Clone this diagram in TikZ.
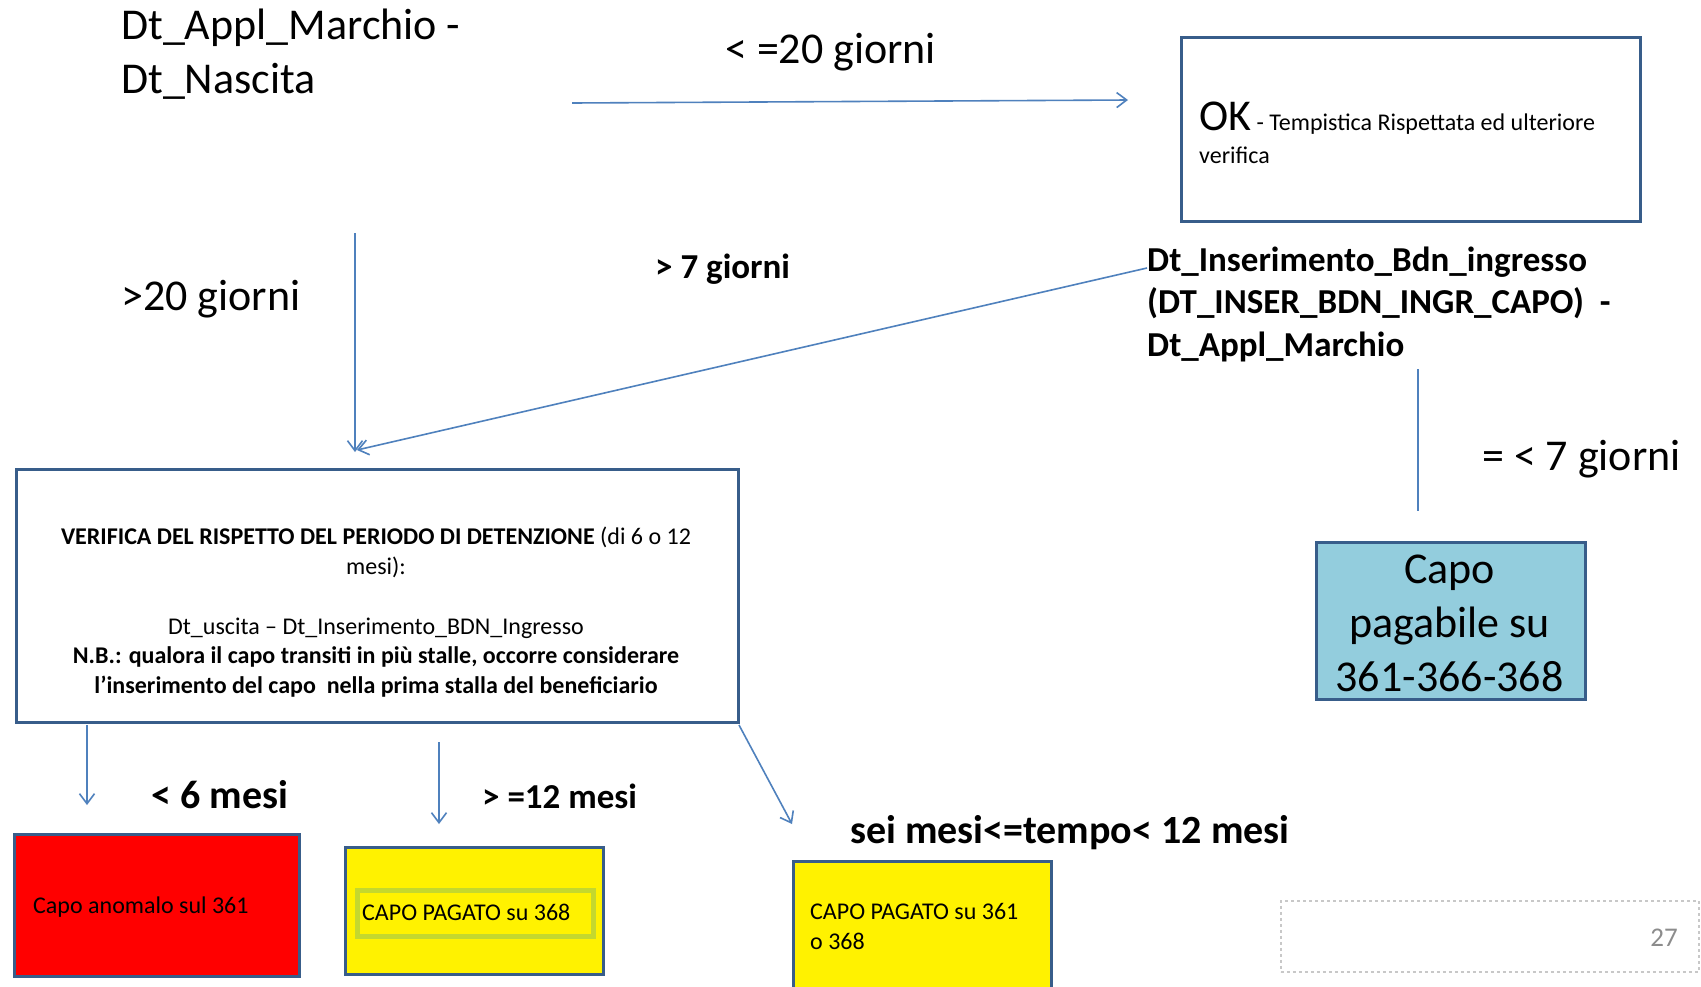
\documentclass[tikz,border=0pt]{standalone}
\usepackage{fontspec}
\setmainfont{Carlito}
\usetikzlibrary{arrows.meta}
\definecolor{lineblue}{HTML}{4F81BD}
\definecolor{boxedge}{HTML}{385D8A}
\definecolor{capofill}{HTML}{93CDDD}
\definecolor{greenedge}{HTML}{C4D82E}
\definecolor{pagegray}{HTML}{8C8C8C}
\definecolor{dashgray}{HTML}{C8C8C8}
\newcommand\fsHuge{\fontsize{44}{54}\selectfont}
\newcommand\fsBig{\fontsize{40}{49}\selectfont}
\newcommand\fsMid{\fontsize{35}{42.5}\selectfont}
\newcommand\fsSmall{\fontsize{24}{29.3}\selectfont}
\begin{document}
\begin{tikzpicture}[x=1pt,y=-1pt,
  conn/.style={draw=lineblue, line width=1.6pt},
  arr/.style={conn, -{Straight Barb[length=10pt,width=15pt]}},
  box/.style={draw=boxedge, line width=3pt, anchor=north west, inner sep=0pt},
  lbl/.style={inner sep=0pt, text=black}]
\useasboundingbox (0,0) rectangle (1701,986);
\fill[white] (0,0) rectangle (1701,986);

% boxes
\node[box, minimum width=459pt, minimum height=184pt] (okbox) at (1180,36) {};
\node[box, minimum width=722pt, minimum height=253pt] (vbox) at (15,468) {};
\node[box, fill=capofill, minimum width=269pt, minimum height=157pt] (capobox) at (1315,541) {};
\node[box, fill=red, minimum width=285pt, minimum height=142pt] (redbox) at (13,833) {};
\node[box, fill=yellow, minimum width=258pt, minimum height=127pt] (ybox2) at (344,846) {};
\node[draw=greenedge, line width=5pt, fill=yellow, anchor=north west, inner sep=0pt, minimum width=236pt, minimum height=46pt] (gframe) at (355,888) {};
\node[box, fill=yellow, minimum width=258pt, minimum height=140pt] (ybox3) at (792,860) {};
\node[draw=dashgray, dashed, line width=1.5pt, anchor=north west, inner sep=0pt, minimum width=418pt, minimum height=71pt] (pagebox) at (1280,900) {};

% texts (multi-line nodes: base = baseline of last line)
\node[lbl, anchor=base west, align=left, font=\fsHuge] (dtappl) at (121,93) {Dt\_Appl\_Marchio -\\Dt\_Nascita};
\node[lbl, anchor=base west, font=\fsHuge] (lt20) at (725,63) {< =20 giorni};
\node[lbl, anchor=base west, align=left, font=\fsSmall] (oktext) at (1199,163) {{\fsHuge OK} - Tempistica Rispettata ed ulteriore\\[3pt]verifica};
\node[lbl, anchor=base west, font=\fsHuge] (gt20) at (121,310) {>20 giorni};
\node[lbl, anchor=base west, font=\fsMid\bfseries] (gt7) at (655,278) {> 7 giorni};
\node[lbl, anchor=base west, align=left, font=\fsMid\bfseries] (dtins) at (1147,356) {Dt\_Inserimento\_Bdn\_ingresso\\(DT\_INSER\_BDN\_INGR\_CAPO)\ \ -\\Dt\_Appl\_Marchio};
\node[lbl, anchor=base west, font=\fsHuge] (le7) at (1482,470) {= < 7 giorni};
\node[lbl, anchor=base, align=center, font=\fsHuge] (capotext) at (1449.5,691) {Capo\\pagabile su\\361-366-368};
\node[lbl, anchor=base, align=center, font=\fsSmall] (vtext) at (376,693) {\textbf{VERIFICA DEL RISPETTO DEL PERIODO DI DETENZIONE} (di 6 o 12\\mesi):\\[31pt]Dt\_uscita – Dt\_Inserimento\_BDN\_Ingresso\\\textbf{N.B.: qualora il capo transiti in più stalle, occorre considerare}\\\textbf{l’inserimento del capo\ \ nella prima stalla del beneficiario}};
\node[lbl, anchor=base west, font=\fsBig\bfseries] (lt6) at (151,808) {< 6 mesi};
\node[lbl, anchor=base west, font=\fsMid\bfseries] (ge12) at (482,808) {> =12 mesi};
\node[lbl, anchor=base west, font=\fsBig\bfseries] (sei) at (850,843) {sei mesi<=tempo< 12 mesi};
\node[lbl, anchor=base west, font=\fsSmall] (anomtext) at (33,913) {Capo anomalo sul 361};
\node[lbl, anchor=base west, font=\fsSmall] (pag368) at (362,920) {CAPO PAGATO su 368};
\node[lbl, anchor=base west, align=left, font=\fsSmall] (pag361) at (810,949) {CAPO PAGATO su 361\\o 368};
\node[lbl, anchor=base east, font=\fontsize{27}{32}\selectfont, text=pagegray] (pnum) at (1678,946) {27};

% connector end points
\coordinate (c1s) at (572,103); \coordinate (c1e) at (1128,100);
\coordinate (c2s) at (355,233); \coordinate (c2e) at (355,452);
\coordinate (c3s) at (1147,268); \coordinate (c3e) at (357,450);
\coordinate (c4s) at (1418,369); \coordinate (c4e) at (1418,511);
\coordinate (c5s) at (87,725);  \coordinate (c5e) at (87,805);
\coordinate (c6s) at (439,742); \coordinate (c6e) at (439,824);
\coordinate (c7s) at (739,725); \coordinate (c7e) at (792,824);

\draw[arr] (c1s) -- (c1e);
\draw[arr] (c2s) -- (c2e);
\draw[arr] (c3s) -- (c3e);
\draw[conn] (c4s) -- (c4e);
\draw[arr] (c5s) -- (c5e);
\draw[arr] (c6s) -- (c6e);
\draw[arr] (c7s) -- (c7e);
\end{tikzpicture}
\end{document}
